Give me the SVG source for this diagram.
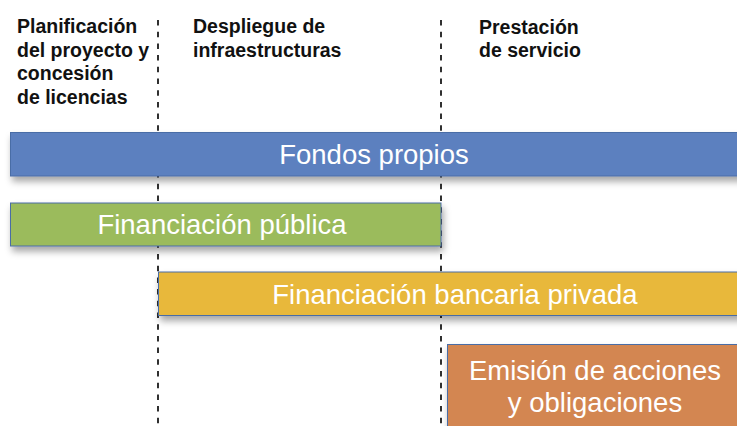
<svg xmlns="http://www.w3.org/2000/svg" width="737" height="426" viewBox="0 0 737 426">
<defs>
<filter id="sh" x="-10%" y="-30%" width="130%" height="180%">
<feDropShadow dx="2" dy="5" stdDeviation="3.5" flood-color="#000" flood-opacity="0.35"/>
</filter>
<style>
.hdr{font-family:"Liberation Sans",Arial,sans-serif;font-weight:bold;font-size:19.5px;fill:#111}
.bar{stroke:#4a6da6;stroke-width:1}
.lbl{font-family:"Liberation Sans",Arial,sans-serif;font-size:27.5px;fill:#fff;text-anchor:middle}
.div{stroke:#1a1a1a;stroke-width:1.8;stroke-dasharray:5.5 6.2;fill:none}
</style>
</defs>
<rect width="737" height="426" fill="#fff"/>
<g id="headers">
<text class="hdr"><tspan x="17" y="33">Planificación</tspan><tspan x="17" y="56.5">del proyecto y</tspan><tspan x="17" y="80">concesión</tspan><tspan x="17" y="103.5">de licencias</tspan></text>
<text class="hdr"><tspan x="193" y="33">Despliegue de</tspan><tspan x="193" y="56.5">infraestructuras</tspan></text>
<text class="hdr"><tspan x="479" y="33.5">Prestación</tspan><tspan x="479" y="57">de servicio</tspan></text>
</g>
<g id="connectors">
<line class="div" x1="158" y1="20" x2="158" y2="426"/>
<line class="div" x1="441" y1="20" x2="441" y2="426"/>
</g>
<g id="fondos-propios">
<rect class="bar" x="10.5" y="132.5" width="740" height="43.5" fill="#5b80bf" filter="url(#sh)"/>
<text class="lbl" x="374" y="164">Fondos propios</text>
</g>
<g id="financiacion-publica">
<rect class="bar" x="10.5" y="203" width="430.5" height="43" fill="#9bbb5b" filter="url(#sh)"/>
<text class="lbl" x="222" y="234">Financiación pública</text>
</g>
<g id="financiacion-bancaria">
<rect class="bar" x="158.5" y="272" width="590" height="43.5" fill="#e8b83a" filter="url(#sh)"/>
<text class="lbl" x="455" y="303.5">Financiación bancaria privada</text>
</g>
<g id="emision">
<rect class="bar" x="447.5" y="344.5" width="300" height="90" fill="#d38651" filter="url(#sh)"/>
<text class="lbl"><tspan x="595" y="380">Emisión de acciones</tspan><tspan x="595" y="412">y obligaciones</tspan></text>
</g>
</svg>
